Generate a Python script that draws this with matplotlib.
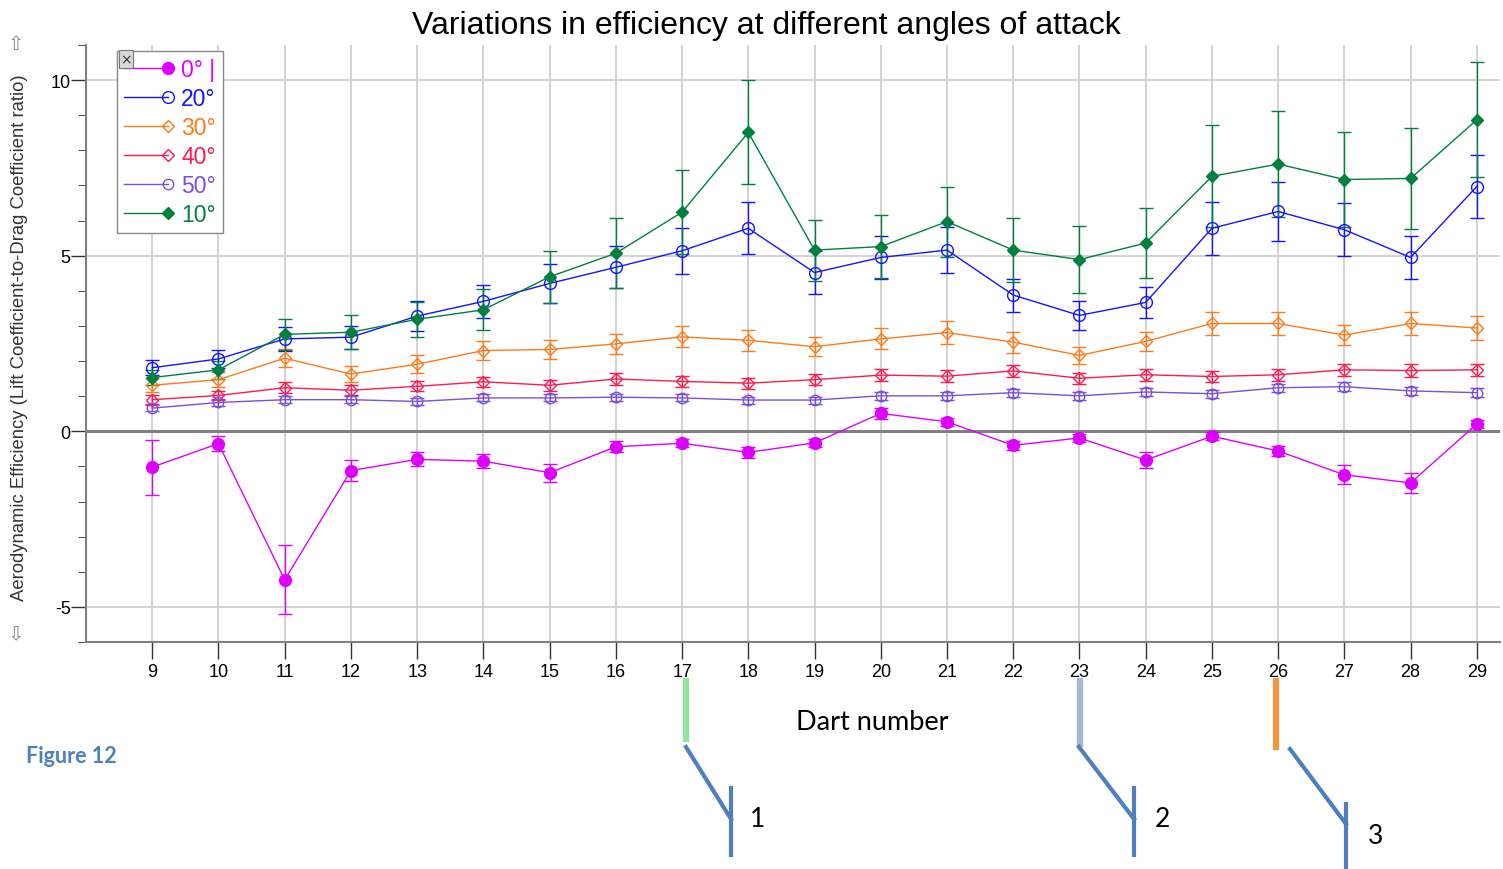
import matplotlib
matplotlib.use("Agg")
import matplotlib.pyplot as plt
from matplotlib.lines import Line2D
from matplotlib.legend_handler import HandlerLine2D
from matplotlib.ticker import MultipleLocator

darts = list(range(9, 30))

eff_0 = [-1.02, -0.35, -4.23, -1.12, -0.80, -0.85, -1.18, -0.44, -0.34, -0.60, -0.33,
         0.51, 0.27, -0.40, -0.19, -0.82, -0.14, -0.56, -1.24, -1.47, 0.21]
err_0 = [0.78, 0.22, 0.98, 0.30, 0.20, 0.20, 0.25, 0.15, 0.12, 0.15, 0.12,
         0.15, 0.12, 0.12, 0.12, 0.22, 0.12, 0.13, 0.27, 0.28, 0.12]

eff_20 = [1.81, 2.06, 2.63, 2.68, 3.28, 3.70, 4.21, 4.67, 5.14, 5.78, 4.52,
          4.95, 5.16, 3.88, 3.30, 3.67, 5.78, 6.26, 5.74, 4.95, 6.97]
err_20 = [0.22, 0.25, 0.35, 0.33, 0.42, 0.46, 0.55, 0.60, 0.66, 0.74, 0.60,
          0.60, 0.66, 0.47, 0.41, 0.45, 0.75, 0.84, 0.75, 0.60, 0.90]

eff_30 = [1.31, 1.47, 2.08, 1.63, 1.91, 2.30, 2.33, 2.49, 2.69, 2.59, 2.41,
          2.63, 2.81, 2.54, 2.16, 2.56, 3.07, 3.07, 2.74, 3.07, 2.94]
err_30 = [0.20, 0.22, 0.25, 0.22, 0.25, 0.27, 0.28, 0.28, 0.30, 0.30, 0.27,
          0.30, 0.32, 0.30, 0.25, 0.28, 0.33, 0.33, 0.28, 0.33, 0.33]

eff_40 = [0.90, 1.02, 1.24, 1.17, 1.28, 1.41, 1.31, 1.49, 1.42, 1.37, 1.47,
          1.60, 1.57, 1.72, 1.51, 1.61, 1.56, 1.61, 1.75, 1.73, 1.75]
err_40 = [0.12, 0.13, 0.15, 0.14, 0.14, 0.15, 0.15, 0.16, 0.16, 0.16, 0.16,
          0.17, 0.17, 0.17, 0.16, 0.17, 0.17, 0.17, 0.18, 0.18, 0.18]

eff_50 = [0.66, 0.82, 0.90, 0.90, 0.85, 0.95, 0.95, 0.97, 0.95, 0.89, 0.89,
          1.01, 1.01, 1.10, 1.01, 1.12, 1.07, 1.24, 1.27, 1.15, 1.10]
err_50 = [0.09, 0.10, 0.10, 0.10, 0.10, 0.10, 0.10, 0.10, 0.10, 0.10, 0.10,
          0.11, 0.11, 0.11, 0.11, 0.11, 0.11, 0.12, 0.12, 0.12, 0.12]

eff_10 = [1.53, 1.75, 2.76, 2.82, 3.19, 3.46, 4.40, 5.07, 6.24, 8.51, 5.16,
          5.26, 5.97, 5.16, 4.89, 5.36, 7.26, 7.61, 7.17, 7.20, 8.87]
err_10 = [0.22, 0.25, 0.45, 0.49, 0.50, 0.58, 0.74, 1.00, 1.20, 1.48, 0.87,
          0.90, 1.00, 0.90, 0.95, 1.00, 1.45, 1.50, 1.35, 1.45, 1.64]

labels = ["0° |", "20°", "30°", "40°", "50°", "10°"]
series = [eff_0, eff_20, eff_30, eff_40, eff_50, eff_10]
errors = [err_0, err_20, err_30, err_40, err_50, err_10]
colors = ["#dd00ff", "#1414ff", "#ff7a1a", "#ff1a50", "#7a4fe0", "#00803f"]
markers = ["o", "o", "D", "D", "o", "D"]
filled = [True, False, False, False, False, True]
msizes = [8.5, 8.5, 6.5, 6.5, 7.5, 6.5]


class EndMarkerHandler(HandlerLine2D):
    # legend sample: line with the marker sitting at its right end
    def create_artists(self, legend, orig_handle, xdescent, ydescent,
                       width, height, fontsize, trans):
        artists = super().create_artists(legend, orig_handle, xdescent, ydescent,
                                         width, height, fontsize, trans)
        for a in artists:
            a.set_markevery([2])
        return artists


def fig_xy(x, y):
    return x / 1503, 1 - y / 870


plt.rcParams["font.family"] = ["Liberation Sans", "DejaVu Sans"]
plt.rcParams["axes.unicode_minus"] = False

fig = plt.figure(figsize=(15.03, 8.70), dpi=100)
ax = fig.add_axes([86 / 1503, 1 - 643 / 870, 1414 / 1503, 597 / 870])

# grid
for d in darts:
    ax.axvline(d, color="#cccccc", lw=1.2, zorder=0)
for yv in [-5, 5, 10]:
    ax.axhline(yv, color="#cccccc", lw=1.2, zorder=0)
ax.axhline(0, color="#808080", lw=2.2, zorder=1)

handles = []
for vals, errs, col, mk, fl, ms, lab in zip(series, errors, colors, markers,
                                             filled, msizes, labels):
    cont = ax.errorbar(darts, vals, yerr=errs, color=col, lw=1.0, elinewidth=1.0,
                       capsize=5, capthick=1.0, marker=mk, markersize=ms,
                       markerfacecolor=col if fl else "none",
                       markeredgecolor=col, markeredgewidth=1.0, label=lab, zorder=3)
    handles.append(cont.lines[0])

ax.set_xlim(8, 29.35)
ax.set_ylim(-6, 11)
ax.set_xticks(darts)
ax.set_yticks([-5, 0, 5, 10])
ax.yaxis.set_minor_locator(MultipleLocator(1))
ax.tick_params(axis="both", labelsize=13, color="#333333", width=1.0)
ax.tick_params(axis="y", which="major", length=11, pad=0)
ax.tick_params(axis="y", which="minor", length=6, color="#333333")
ax.tick_params(axis="x", which="major", length=12, pad=3)
for side in ["top", "right"]:
    ax.spines[side].set_visible(False)
for side in ["left", "bottom"]:
    ax.spines[side].set_color("#808080")
    ax.spines[side].set_linewidth(1.5)

leg = ax.legend(handles, labels, loc="upper left", bbox_to_anchor=(0.022, 0.99),
                borderaxespad=0, fontsize=16.5, frameon=True, fancybox=False,
                edgecolor="#888888", framealpha=1, handlelength=1.9,
                handletextpad=0.6, labelspacing=0.26, borderpad=0.3,
                handler_map={Line2D: EndMarkerHandler()})
leg.get_frame().set_linewidth(1.0)
for txt, col in zip(leg.get_texts(), colors):
    txt.set_color(col)

# small close box on the legend corner
fig.text(*fig_xy(126, 60), "×", ha="center", va="center", fontsize=10,
         color="#333333", family="DejaVu Sans",
         bbox=dict(boxstyle="square,pad=0.12", fc="#d8d8d8", ec="#777777", lw=0.8))

fig.text(*fig_xy(766, 26), "Variations in efficiency at different angles of attack",
         ha="center", va="center", fontsize=23)
fig.text(*fig_xy(20, 338),
         "Aerodynamic Efficiency (Lift Coefficient-to-Drag Coefficient ratio)",
         ha="center", va="center", rotation=90, fontsize=13.3, color="#333333")
fig.text(*fig_xy(16, 44), "⇧", ha="center", va="center", fontsize=14,
         color="#888888", family="DejaVu Sans")
fig.text(*fig_xy(16, 635), "⇩", ha="center", va="center", fontsize=14,
         color="#888888", family="DejaVu Sans")

fig.text(*fig_xy(872, 722), "Dart number", ha="center", va="center",
         fontsize=19.5, family="Lato")
fig.text(*fig_xy(26, 757), "Figure 12", ha="left", va="center", fontsize=15.5,
         family="Lato", weight="bold", color="#4f81bd")

# colour markers under the axis and their numbered callouts
bars = [((686, 682), (686, 740), "#8ee6a0"),
        ((1080, 682), (1080, 745), "#a3b8d6"),
        ((1276, 682), (1276, 748), "#f0963c")]
for (x0, y0), (x1, y1), col in bars:
    p0, p1 = fig_xy(x0, y0), fig_xy(x1, y1)
    fig.add_artist(Line2D([p0[0], p1[0]], [p0[1], p1[1]], color=col, lw=4.5,
                          transform=fig.transFigure))

callouts = [((686, 748), (731, 820), (731, 789), (731, 856), (758, 820), "1"),
            ((1079, 748), (1134, 820), (1134, 789), (1134, 856), (1162, 820), "2"),
            ((1290, 750), (1346, 825), (1346, 805), (1346, 870), (1376, 837), "3")]
for a, b, v0, v1, tpos, num in callouts:
    pa, pb = fig_xy(*a), fig_xy(*b)
    q0, q1 = fig_xy(*v0), fig_xy(*v1)
    fig.add_artist(Line2D([pa[0], pb[0]], [pa[1], pb[1]], color="#4f7fbf", lw=3,
                          transform=fig.transFigure))
    fig.add_artist(Line2D([q0[0], q1[0]], [q0[1], q1[1]], color="#4f7fbf", lw=3,
                          transform=fig.transFigure))
    fig.text(*fig_xy(*tpos), num, ha="center", va="center", fontsize=19, family="Lato")

fig.savefig("out.png", dpi=100)
